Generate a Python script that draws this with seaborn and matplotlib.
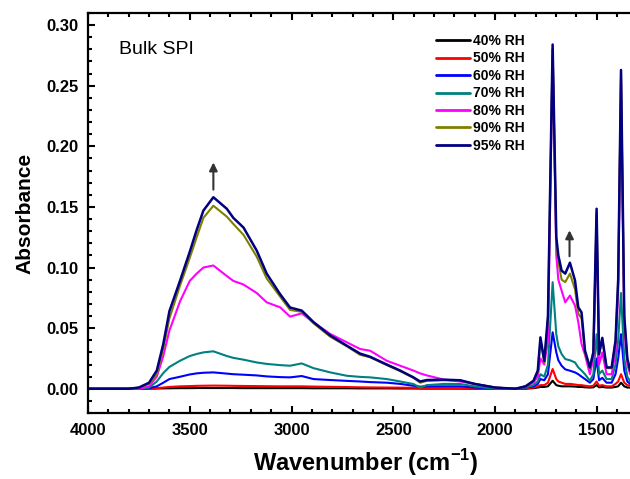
import numpy as np
import pandas as pd
import matplotlib
matplotlib.use('Agg')
import matplotlib.pyplot as plt
import seaborn as sns
from matplotlib.ticker import MultipleLocator

# wavenumber grid (cm-1)
wavenumber = [4000, 3800, 3750, 3700, 3662, 3630, 3600, 3548, 3500, 3466,
              3433, 3384, 3318, 3286, 3236, 3171, 3122, 3056, 3007, 2950,
              2892, 2810, 2728, 2663, 2614, 2532, 2466, 2401, 2368, 2335,
              2250, 2171, 2100, 2000, 1900, 1850, 1811, 1790, 1777, 1758,
              1740, 1717, 1699, 1689, 1673, 1655, 1632, 1607, 1591, 1575,
              1558, 1534, 1517, 1501, 1489, 1473, 1452, 1427, 1408, 1395,
              1381, 1365, 1350, 1336, 1300]

rh_40 = [0, 0, 0, 0, 0.0002, 0.0003, 0.0004, 0.0005, 0.0005, 0.0006,
         0.0006, 0.0006, 0.0006, 0.0006, 0.0005, 0.0005, 0.0005, 0.0005, 0.0005, 0.0005,
         0.0004, 0.0004, 0.0004, 0.0003, 0.0003, 0.0003, 0.0002, 0.0002, 0.0001, 0.0001,
         0.0001, 0.0001, 0, 0, 0, 0, 0.0005, 0.001, 0.0015, 0.0015,
         0.002, 0.0066, 0.003, 0.0025, 0.002, 0.002, 0.002, 0.0018, 0.0015, 0.0015,
         0.0012, 0.001, 0.0012, 0.003, 0.0012, 0.0015, 0.001, 0.001, 0.0015, 0.002,
         0.005, 0.002, 0.001, 0.001, 0.001]

rh_50 = [0, 0, 0, 0, 0.0005, 0.001, 0.0015, 0.002, 0.0022, 0.0024,
         0.0025, 0.0026, 0.0025, 0.0024, 0.0023, 0.0022, 0.0021, 0.002, 0.002, 0.002,
         0.0018, 0.0016, 0.0014, 0.0012, 0.0011, 0.001, 0.0009, 0.0008, 0.0006, 0.0005,
         0.0004, 0.0003, 0.0002, 0, 0, 0.0005, 0.001, 0.002, 0.003, 0.003,
         0.005, 0.0163, 0.008, 0.006, 0.005, 0.004, 0.004, 0.0035, 0.003, 0.003,
         0.0025, 0.002, 0.0025, 0.006, 0.0025, 0.003, 0.002, 0.002, 0.004, 0.006,
         0.012, 0.005, 0.003, 0.0025, 0.002]

rh_60 = [0, 0, 0, 0.0005, 0.002, 0.005, 0.008, 0.0099, 0.0118, 0.0127,
         0.0132, 0.0135, 0.0125, 0.012, 0.0116, 0.011, 0.0102, 0.0096, 0.0094, 0.0105,
         0.008, 0.0072, 0.0065, 0.006, 0.0055, 0.005, 0.004, 0.0025, 0.0017, 0.002,
         0.002, 0.002, 0.001, 0, 0, 0.001, 0.002, 0.004, 0.008, 0.007,
         0.012, 0.0466, 0.03, 0.0235, 0.019, 0.016, 0.0149, 0.0135, 0.012, 0.01,
         0.008, 0.005, 0.008, 0.025, 0.007, 0.009, 0.005, 0.005, 0.012, 0.025,
         0.045, 0.015, 0.006, 0.004, 0.003]

rh_70 = [0, 0, 0, 0.001, 0.006, 0.013, 0.018, 0.0231, 0.027, 0.0287,
         0.030, 0.0309, 0.027, 0.0255, 0.024, 0.0217, 0.0205, 0.0195, 0.019, 0.0209,
         0.017, 0.0135, 0.0107, 0.0098, 0.0094, 0.008, 0.006, 0.0039, 0.001, 0.003,
         0.004, 0.0039, 0.002, 0, 0, 0.001, 0.003, 0.006, 0.012, 0.01,
         0.02, 0.0879, 0.045, 0.035, 0.0287, 0.0245, 0.0235, 0.0217, 0.0176, 0.015,
         0.012, 0.0066, 0.012, 0.045, 0.012, 0.015, 0.008, 0.008, 0.02, 0.04,
         0.079, 0.025, 0.01, 0.006, 0.004]

rh_80 = [0, 0, 0, 0.002, 0.01, 0.027, 0.048, 0.072, 0.089, 0.095,
         0.100, 0.1017, 0.093, 0.089, 0.086, 0.079, 0.0713, 0.0672, 0.0595, 0.0622,
         0.0548, 0.0452, 0.0383, 0.0328, 0.0314, 0.0231, 0.019, 0.015, 0.0127, 0.011,
         0.0075, 0.006, 0.004, 0.001, 0, 0.002, 0.005, 0.01, 0.025, 0.02,
         0.04, 0.28, 0.11, 0.09, 0.081, 0.0713, 0.0769, 0.0686, 0.055, 0.037,
         0.028, 0.012, 0.025, 0.14, 0.02, 0.03, 0.012, 0.012, 0.03, 0.08,
         0.255, 0.05, 0.02, 0.012, 0.008]

rh_90 = [0, 0, 0.001, 0.004, 0.012, 0.033, 0.058, 0.085, 0.108, 0.125,
         0.141, 0.151, 0.142, 0.136, 0.127, 0.109, 0.091, 0.076, 0.065, 0.0635,
         0.054, 0.043, 0.035, 0.028, 0.026, 0.0195, 0.0145, 0.009, 0.005, 0.0065,
         0.007, 0.0068, 0.004, 0.001, 0, 0.002, 0.0062, 0.014, 0.04, 0.022,
         0.058, 0.28, 0.12, 0.105, 0.09, 0.088, 0.095, 0.082, 0.062, 0.058,
         0.03, 0.017, 0.03, 0.145, 0.028, 0.041, 0.017, 0.017, 0.039, 0.088,
         0.26, 0.058, 0.024, 0.014, 0.009]

rh_95 = [0, 0, 0.001, 0.005, 0.015, 0.037, 0.064, 0.089, 0.113, 0.131,
         0.147, 0.158, 0.1485, 0.141, 0.133, 0.114, 0.095, 0.078, 0.067, 0.0645,
         0.055, 0.044, 0.0355, 0.029, 0.0264, 0.020, 0.015, 0.0094, 0.006, 0.0072,
         0.0075, 0.007, 0.004, 0.001, 0, 0.002, 0.0066, 0.015, 0.0424, 0.023,
         0.06, 0.284, 0.125, 0.11, 0.0975, 0.095, 0.104, 0.0893, 0.0672, 0.063,
         0.0314, 0.0176, 0.03, 0.1485, 0.0287, 0.042, 0.0176, 0.0176, 0.0397, 0.09,
         0.263, 0.06, 0.025, 0.015, 0.01]

labels = ['40% RH', '50% RH', '60% RH', '70% RH', '80% RH', '90% RH', '95% RH']
series = [rh_40, rh_50, rh_60, rh_70, rh_80, rh_90, rh_95]
colors = ['#000000', '#ff0000', '#0000ff', '#008080', '#ff00ff', '#808000', '#000080']

sns.set_style('ticks')
plt.rcParams['font.family'] = ['Liberation Sans', 'DejaVu Sans']
plt.rcParams.update({
    'text.color': 'black', 'axes.labelcolor': 'black', 'axes.edgecolor': 'black',
    'xtick.color': 'black', 'ytick.color': 'black',
    'mathtext.fontset': 'custom', 'mathtext.rm': 'Liberation Sans',
    'mathtext.bf': 'Liberation Sans:bold',
})

fig = plt.figure(figsize=(6.3, 4.79), dpi=100)
ax = fig.add_axes([88 / 630, 66 / 479, (643 - 88) / 630, 400 / 479])

for lab, vals, col in zip(labels, series, colors):
    df = pd.DataFrame({'wn': wavenumber, 'abs': vals})
    lw = 1.8 if lab == '95% RH' else 1.5
    sns.lineplot(data=df, x='wn', y='abs', color=col, label=lab, linewidth=lw, ax=ax)

ax.set_xlim(4000, 1273)
ax.set_ylim(-0.02, 0.31)
ax.xaxis.set_major_locator(MultipleLocator(500))
ax.xaxis.set_minor_locator(MultipleLocator(100))
ax.yaxis.set_major_locator(MultipleLocator(0.05))
ax.yaxis.set_minor_locator(MultipleLocator(0.01))
ax.yaxis.set_major_formatter(matplotlib.ticker.FormatStrFormatter('%.2f'))

ax.tick_params(which='both', direction='in', top=True, right=False, width=1.5,
               color='black')
ax.tick_params(which='major', length=5)
ax.tick_params(which='minor', length=3)
ax.tick_params(axis='x', pad=7, labelsize=12)
ax.tick_params(axis='y', pad=7, labelsize=12)
for t in ax.get_xticklabels() + ax.get_yticklabels():
    t.set_fontweight('bold')

for sp in ax.spines.values():
    sp.set_linewidth(1.6)
    sp.set_color('black')
ax.spines['right'].set_visible(False)

ax.set_xlabel('Wavenumber (cm$^{\\mathbf{-1}}$)', fontsize=17, fontweight='bold', labelpad=7)
ax.set_ylabel('Absorbance', fontsize=15, fontweight='bold', labelpad=8)

ax.text(0.056, 0.8975, 'Bulk SPI', transform=ax.transAxes, fontsize=14, va='baseline')

arrow = dict(arrowstyle='-|>', color='#333333', lw=1.5, mutation_scale=12)
ax.annotate('', xy=(3384, 0.189), xytext=(3384, 0.162), arrowprops=arrow)
ax.annotate('', xy=(1634, 0.133), xytext=(1634, 0.107), arrowprops=arrow)

leg = ax.legend(loc='upper left', bbox_to_anchor=(436 / 630, 1 - 34 / 479),
                bbox_transform=fig.transFigure, frameon=False, borderpad=0,
                borderaxespad=0, handlelength=2.45, handletextpad=0.2,
                labelspacing=0.25, prop={'weight': 'bold', 'size': 10})
for line in leg.get_lines():
    line.set_linewidth(2)

fig.savefig('out.png', dpi=100)
